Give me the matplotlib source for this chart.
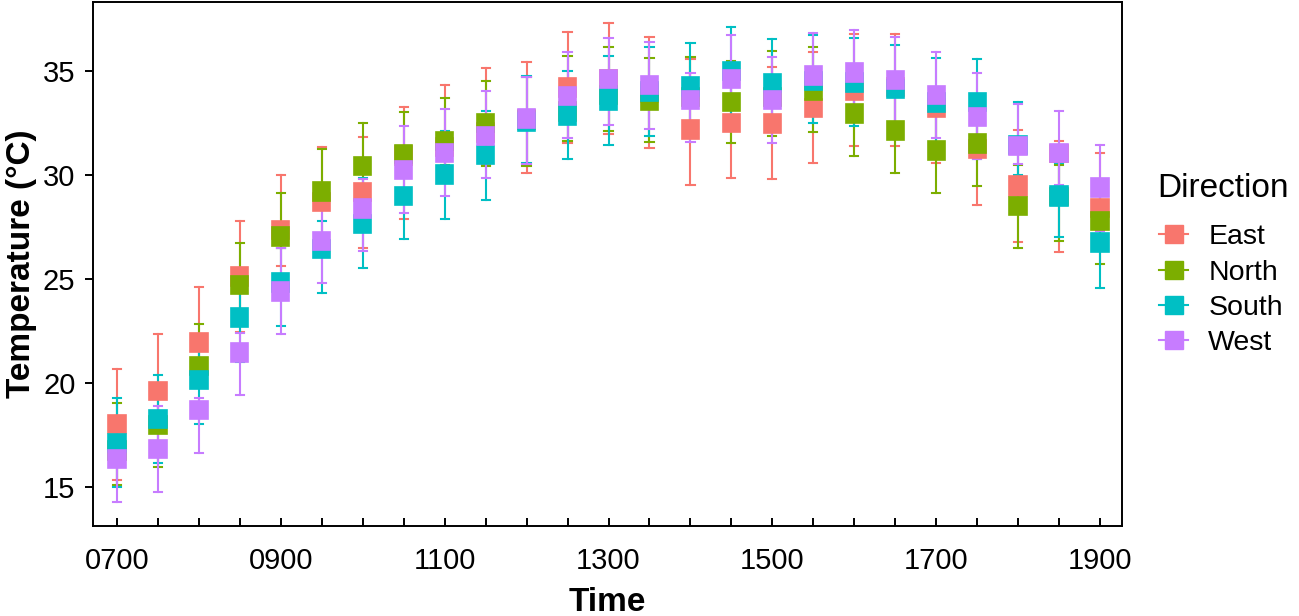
import matplotlib
matplotlib.use("Agg")
import matplotlib.pyplot as plt
from matplotlib.lines import Line2D
import numpy as np

plt.rcParams['font.family'] = ['Liberation Sans', 'DejaVu Sans']

times = ['0700', '0730', '0800', '0830', '0900', '0930', '1000', '1030', '1100', '1130',
         '1200', '1230', '1300', '1330', '1400', '1430', '1500', '1530', '1600', '1630',
         '1700', '1730', '1800', '1830', '1900']
directions = ['East', 'North', 'South', 'West']
colors = ['#F8766D', '#7CAE00', '#00BFC4', '#C77CFF']

# East
east_q1 = [17.57, 19.17, 21.50, 24.68, 26.91, 28.27, 28.75, 30.50, 30.90, 31.60, 32.30, 33.77, 34.20,
           33.50, 31.73, 32.06, 32.04, 32.78, 33.61, 33.80, 32.81, 30.83, 29.00, 30.65, 27.96]
east_q3 = [18.45, 20.05, 22.38, 25.56, 27.79, 29.15, 29.63, 31.38, 31.80, 32.50, 33.15, 34.65, 35.08,
           34.40, 32.65, 32.94, 32.94, 33.66, 34.49, 34.68, 33.68, 31.71, 29.95, 31.45, 28.85]
east_lo = [15.32, 18.40, 20.80, 22.45, 25.60, 27.00, 26.50, 27.88, 29.90, 30.48, 30.08, 31.53, 31.97,
           31.28, 29.52, 29.84, 29.81, 30.56, 31.41, 31.41, 30.56, 28.56, 26.80, 26.31, 27.50]
east_hi = [20.66, 22.33, 24.62, 27.80, 30.00, 31.36, 31.84, 33.29, 34.33, 35.16, 35.42, 36.87, 37.33,
           36.63, 35.60, 35.40, 35.18, 35.90, 36.77, 36.79, 34.10, 33.00, 32.17, 31.65, 31.07]

# North
north_q1 = [16.30, 17.54, 20.38, 24.26, 26.60, 28.77, 30.00, 30.56, 31.20, 32.06, 32.20, 32.60, 33.40,
            33.13, 33.30, 33.08, 33.30, 33.61, 32.49, 31.68, 30.72, 31.08, 28.08, 28.55, 27.35]
north_q3 = [17.20, 18.42, 21.26, 25.15, 27.51, 29.65, 30.88, 31.44, 32.08, 32.94, 33.10, 33.50, 34.30,
            34.01, 34.20, 33.96, 34.20, 34.49, 33.40, 32.60, 31.65, 31.96, 28.96, 29.40, 28.23]
north_lo = [15.10, 15.96, 19.80, 23.00, 26.50, 28.40, 29.30, 29.90, 30.50, 30.45, 30.45, 31.65, 32.13,
            31.57, 32.20, 31.53, 31.89, 32.06, 30.93, 30.11, 29.15, 29.47, 26.50, 26.84, 25.72]
north_hi = [19.04, 19.60, 22.83, 26.74, 29.12, 31.24, 32.52, 33.02, 33.72, 34.52, 34.70, 35.73, 36.17,
            35.62, 35.70, 35.50, 35.98, 36.15, 34.60, 34.00, 33.00, 33.00, 30.50, 30.50, 29.50]

# South
south_q1 = [16.66, 17.81, 19.69, 22.70, 24.39, 25.99, 27.19, 28.56, 29.57, 30.51, 32.13, 32.41, 33.13,
            33.58, 33.82, 34.57, 33.98, 34.09, 34.01, 33.69, 33.05, 33.08, 31.00, 28.52, 26.31]
south_q3 = [17.54, 18.69, 20.58, 23.61, 25.27, 26.87, 28.07, 29.44, 30.48, 31.40, 33.01, 33.37, 34.17,
            34.46, 34.70, 35.45, 34.86, 34.97, 34.89, 34.57, 33.93, 33.96, 31.90, 29.47, 27.19]
south_lo = [15.00, 16.13, 18.02, 21.00, 22.73, 24.34, 25.54, 26.90, 27.88, 28.80, 30.60, 30.77, 31.44,
            31.89, 32.00, 32.50, 32.30, 32.49, 32.37, 32.20, 31.30, 30.77, 30.00, 27.00, 24.58]
south_hi = [19.25, 20.38, 21.90, 24.50, 26.50, 27.80, 29.84, 30.90, 32.13, 33.08, 34.78, 35.00, 35.73,
            36.17, 36.37, 37.14, 36.53, 36.75, 36.58, 36.26, 35.62, 35.60, 33.53, 30.60, 27.80]

# West
west_q1 = [15.88, 16.37, 18.24, 21.02, 23.95, 26.39, 27.95, 29.81, 30.61, 31.44, 32.25, 33.37, 34.17,
           33.88, 33.18, 34.17, 33.18, 34.33, 34.49, 34.12, 33.42, 32.37, 30.96, 30.61, 28.96]
west_q3 = [16.77, 17.25, 19.14, 21.90, 24.87, 27.27, 28.83, 30.69, 31.49, 32.32, 33.18, 34.25, 35.05,
           34.76, 34.06, 35.05, 34.06, 35.25, 35.37, 35.00, 34.30, 33.25, 31.84, 31.49, 29.84]
west_lo = [14.28, 14.76, 16.64, 19.41, 22.33, 24.79, 26.36, 28.19, 28.99, 29.84, 30.55, 31.77, 32.41,
           32.21, 31.60, 33.30, 31.55, 33.00, 33.00, 32.30, 31.77, 30.77, 30.52, 29.50, 27.32]
west_hi = [17.90, 18.88, 19.28, 22.40, 26.50, 28.60, 29.80, 32.37, 33.18, 34.04, 34.70, 35.90, 36.58,
           36.39, 34.89, 36.74, 35.69, 36.85, 36.98, 36.66, 35.90, 34.92, 33.40, 33.09, 31.44]

series = {
    'East': (east_q1, east_q3, east_lo, east_hi),
    'North': (north_q1, north_q3, north_lo, north_hi),
    'South': (south_q1, south_q3, south_lo, south_hi),
    'West': (west_q1, west_q3, west_lo, west_hi),
}

fig = plt.figure(figsize=(12.99, 6.16), dpi=100)
ax = fig.add_axes([0.0718, 0.1461, 0.8635 - 0.0718, 0.9968 - 0.1461])

pos = np.arange(len(times))
for k, (d, c) in enumerate(zip(directions, colors)):
    q1, q3, lo, hi = series[d]
    stats = [dict(med=q3[i], q1=q1[i], q3=q3[i], whislo=lo[i], whishi=hi[i], fliers=[])
             for i in range(len(times))]
    ax.bxp(stats, positions=pos, widths=0.42, capwidths=0.2, patch_artist=True,
           showfliers=False, manage_ticks=False,
           boxprops=dict(facecolor=c, edgecolor=c, linewidth=1.2, zorder=3 + k),
           whiskerprops=dict(color=c, linewidth=1.5, zorder=2),
           capprops=dict(color=c, linewidth=1.5, zorder=2),
           medianprops=dict(linewidth=0, zorder=3 + k))

ax.set_xlim(-0.58, 24.53)
ax.set_ylim(13.11, 38.33)
ax.set_xticks(pos)
ax.set_xticklabels([t if i % 4 == 0 else '' for i, t in enumerate(times)])
ax.set_yticks([15, 20, 25, 30, 35])

for s in ax.spines.values():
    s.set_linewidth(1.4)
    s.set_color('black')

ax.tick_params(axis='x', direction='in', length=5.5, width=1.4, pad=15, labelsize=21, colors='black')
ax.tick_params(axis='y', direction='out', length=5.8, width=1.4, pad=7, labelsize=21, colors='black')

ax.set_xlabel('Time', fontsize=24, fontweight='bold', labelpad=8.5)
ax.set_ylabel('Temperature (°C)', fontsize=24, fontweight='bold', labelpad=4)

fig.text(0.891, 0.681, 'Direction', fontsize=24, ha='left', va='baseline')

handles = [Line2D([], [], color=c, lw=1.5, marker='s', markersize=13.5,
                  markerfacecolor=c, markeredgecolor=c) for c in colors]
leg = ax.legend(handles, directions, loc='upper left',
                bbox_to_anchor=(0.8925, 0.636), bbox_transform=fig.transFigure,
                frameon=False, fontsize=20.5, handlelength=1.02,
                handletextpad=0.7, labelspacing=0.33, borderpad=0, borderaxespad=0)

fig.savefig('out.png', dpi=100)
